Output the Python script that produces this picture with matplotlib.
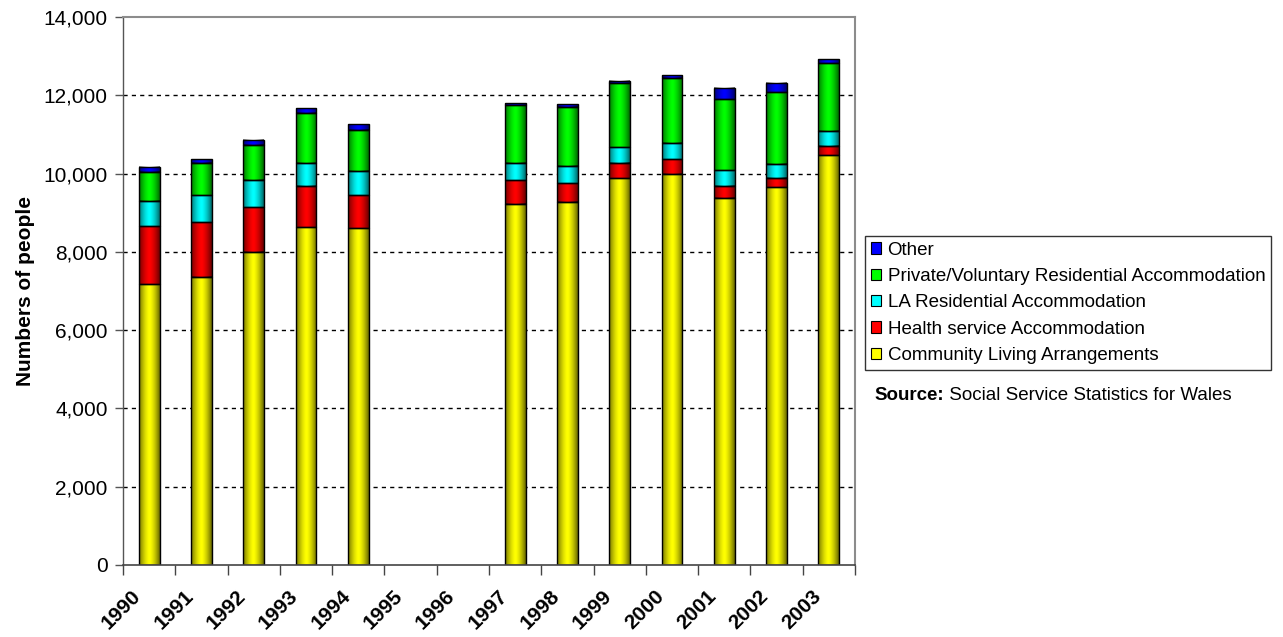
import numpy as np
import matplotlib
matplotlib.use('Agg')
import matplotlib.pyplot as plt
from matplotlib.patches import Patch
from matplotlib.ticker import FuncFormatter, MultipleLocator
import matplotlib.transforms as mtransforms

plt.rcParams['font.family'] = ['Liberation Sans', 'DejaVu Sans']

# data (1995 and 1996 have no data)
years = ['1990', '1991', '1992', '1993', '1994', '1995', '1996',
         '1997', '1998', '1999', '2000', '2001', '2002', '2003']
nan = np.nan
community = [7170, 7360, 8000, 8630, 8600, nan, nan, 9230, 9280, 9880, 10000, 9380, 9650, 10470]
health = [1480, 1400, 1140, 1050, 840, nan, nan, 600, 470, 395, 365, 315, 230, 230]
la_res = [640, 680, 690, 600, 620, nan, nan, 445, 435, 400, 410, 390, 375, 400]
private = [750, 835, 910, 1280, 1060, nan, nan, 1480, 1525, 1630, 1665, 1810, 1835, 1730]
other = [140, 95, 130, 120, 135, nan, nan, 50, 70, 60, 75, 290, 230, 95]

series = [
    ('Community Living Arrangements', community, '#ffff00'),
    ('Health service Accommodation', health, '#ff0000'),
    ('LA Residential Accommodation', la_res, '#00ffff'),
    ('Private/Voluntary Residential Accommodation', private, '#00ff00'),
    ('Other', other, '#0000ff'),
]

fig = plt.figure(figsize=(12.83, 6.37), dpi=100)
ax = fig.add_axes([123 / 1283, 1 - 565 / 637, (855 - 123) / 1283, (565 - 17) / 637])

x = np.arange(len(years))
width = 0.4
bottom = np.zeros(len(years))

# shading profile across a bar (dark edges, bright middle), like Excel's cylinder fill
prof = np.linspace(0, 1, 64)
alpha = np.where(prof < 0.5, 0.55 * (1 - prof / 0.5) ** 1.5, 0.6 * ((prof - 0.5) / 0.5) ** 1.5)
shade = np.zeros((1, 64, 4))
shade[0, :, 3] = alpha

handles = []
for name, vals, color in series:
    vals = np.array(vals, dtype=float)
    bars = ax.bar(x, vals, width, bottom=bottom, color=color, linewidth=0, zorder=2)
    for p in bars.patches:
        if np.isnan(p.get_height()):
            continue
        x0, y0 = p.get_x(), p.get_y()
        ax.imshow(shade, extent=(x0, x0 + p.get_width(), y0, y0 + p.get_height()),
                  aspect='auto', interpolation='bilinear', zorder=2.1)
    ax.bar(x, vals, width, bottom=bottom, fill=False, edgecolor='black',
           linewidth=1.0, zorder=2.2)
    handles.append(Patch(facecolor=color, edgecolor='black', linewidth=0.8, label=name))
    bottom = bottom + vals

ax.set_xlim(-0.5, len(years) - 0.5)
ax.set_ylim(0, 14000)

# y axis
ax.yaxis.set_major_locator(MultipleLocator(2000))
ax.yaxis.set_major_formatter(FuncFormatter(lambda v, _: '{:,.0f}'.format(v)))
ax.tick_params(axis='y', labelsize=15, length=6, width=1, color='#555555', pad=5)
ax.set_ylabel('Numbers of people', fontsize=15, fontweight='bold', labelpad=6)
for v in range(2000, 14000, 2000):
    ax.axhline(v, color='black', linewidth=1, linestyle=(0, (3, 3)), zorder=1)

# x axis: tick marks between categories, labels at centres
ax.set_xticks(np.arange(-0.5, len(years)), labels=[''] * (len(years) + 1))
ax.set_xticks(x, labels=years, minor=True)
ax.tick_params(axis='x', which='major', length=7, width=1, color='#444444', direction='out')
ax.tick_params(axis='x', which='minor', length=0, pad=20, labelsize=15)
shift = mtransforms.ScaledTranslation(-0.11, 0, fig.dpi_scale_trans)
for lab in ax.get_xticklabels(minor=True):
    lab.set_rotation(45)
    lab.set_rotation_mode('anchor')
    lab.set_ha('right')
    lab.set_va('center')
    lab.set_fontweight('bold')
    lab.set_transform(lab.get_transform() + shift)

for side in ['top', 'right', 'left']:
    ax.spines[side].set_color('#8c8c8c')
    ax.spines[side].set_linewidth(1.5)
ax.spines['left'].set_color('#555555')
ax.spines['left'].set_linewidth(1)
ax.spines['bottom'].set_color('#444444')
ax.spines['bottom'].set_linewidth(1.2)

leg = fig.legend(handles=handles[::-1], loc='upper left',
                 bbox_to_anchor=(865 / 1283, 1 - 236 / 637), borderaxespad=0,
                 fontsize=13.5, frameon=True, fancybox=False, edgecolor='black',
                 handlelength=0.55, handleheight=0.55, handletextpad=0.35,
                 labelspacing=0.5, borderpad=0.3)
leg.get_frame().set_linewidth(1)

src = fig.text(874 / 1283, 1 - 396 / 637, 'Source:', fontsize=13.5,
               fontweight='bold', va='center')
ax.annotate(' Social Service Statistics for Wales', xy=(1, 0.5), xycoords=src,
            va='center', fontsize=13.5, annotation_clip=False)

fig.savefig('out.png', dpi=100)
